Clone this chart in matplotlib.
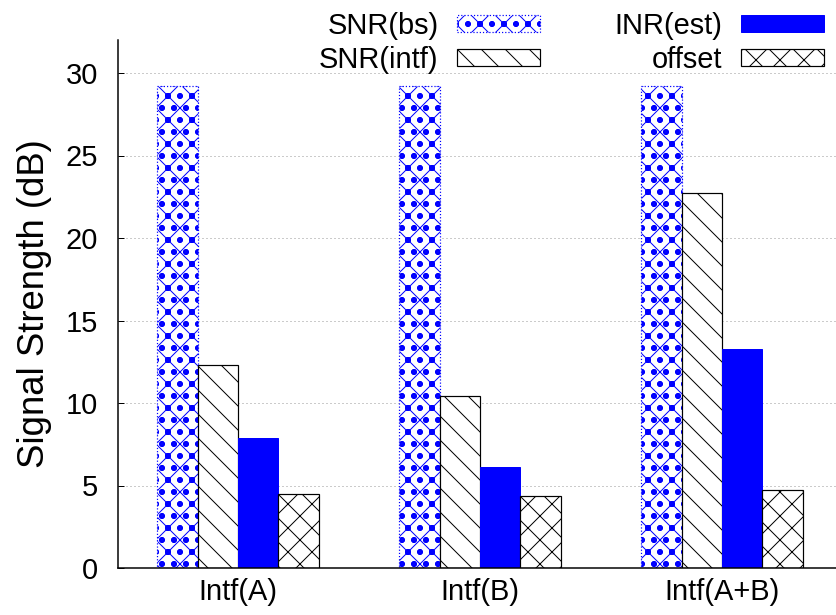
import numpy as np
import matplotlib
matplotlib.use("Agg")
import matplotlib.pyplot as plt

groups = ["Intf(A)", "Intf(B)", "Intf(A+B)"]
series = ["SNR(bs)", "SNR(intf)", "INR(est)", "offset"]
snr_bs = [29.2, 29.2, 29.2]
snr_intf = [12.3, 10.4, 22.7]
inr_est = [7.9, 6.1, 13.3]
offset = [4.5, 4.35, 4.7]

plt.rcParams["font.family"] = ["Liberation Sans", "DejaVu Sans"]
plt.rcParams["hatch.linewidth"] = 1.0

# dpi 72 so hatch spacing matches the reference
fig = plt.figure(figsize=(836 / 72, 615 / 72), dpi=72)
ax = fig.add_axes([118 / 836, 47 / 615, 1 - 118 / 836, (568 - 40) / 615])

x = np.arange(len(groups))
w = 1 / 6
styles = [
    dict(facecolor="white", edgecolor="blue", hatch="x.o", linestyle=":", linewidth=1.2),
    dict(facecolor="white", edgecolor="black", hatch="\\", linewidth=1.2),
    dict(facecolor="blue", edgecolor="blue", linewidth=1.0),
    dict(facecolor="white", edgecolor="black", hatch="x", linewidth=1.2),
]
vals = [snr_bs, snr_intf, inr_est, offset]
for i, (v, st) in enumerate(zip(vals, styles)):
    ax.bar(x + (i - 1.5) * w, v, width=w, label=series[i], zorder=2, **st)

ax.set_xlim(-0.496, 2.471)
ax.set_ylim(0, 32)
ax.set_yticks(range(0, 31, 5))
ax.set_xticks(x)
ax.set_xticklabels(groups)
ax.tick_params(axis="y", direction="in", length=6, width=1, pad=20, labelsize=29)
ax.tick_params(axis="x", length=0, pad=10, labelsize=29)
ax.set_ylabel("Signal Strength (dB)", fontsize=36.5, labelpad=13)
ax.yaxis.grid(True, linestyle=(0, (1, 3)), color="#999999", linewidth=1)
ax.set_axisbelow(True)
for s in ["top", "right"]:
    ax.spines[s].set_visible(False)
for s in ["left", "bottom"]:
    ax.spines[s].set_linewidth(1.5)

fig.legend(loc="upper right", bbox_to_anchor=(824 / 836, 1 - 12 / 615), ncol=2,
           frameon=False, markerfirst=False, fontsize=29, handlelength=2.86,
           handleheight=0.5, handletextpad=0.65, columnspacing=2.55,
           labelspacing=0.2, borderpad=0, borderaxespad=0)

fig.savefig("out.png", dpi=72)
